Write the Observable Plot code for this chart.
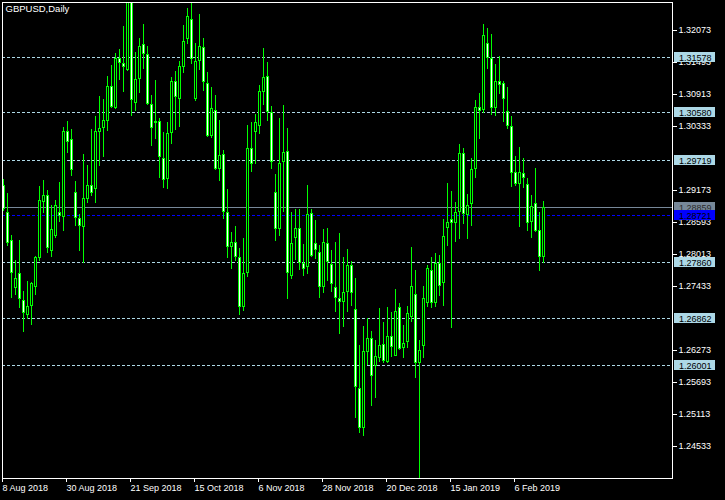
<!DOCTYPE html>
<html>
<head>
<meta charset="utf-8">
<script src="https://cdn.jsdelivr.net/npm/d3@7"></script>
<script src="https://cdn.jsdelivr.net/npm/@observablehq/plot@0.6"></script>
<style>
  html, body { margin: 0; padding: 0; background: #000; }
</style>
</head>
<body>
<div id="chart"></div>
<script>
// ---- data (GBPUSD daily bars) ----
const symbolTitle = "GBPUSD,Daily";

const dates = [
  "2018-08-08","2018-08-09","2018-08-10","2018-08-13","2018-08-14","2018-08-15","2018-08-16","2018-08-17",
  "2018-08-20","2018-08-21","2018-08-22","2018-08-23","2018-08-24","2018-08-27","2018-08-28","2018-08-29",
  "2018-08-30","2018-08-31",
  "2018-09-03","2018-09-04","2018-09-05","2018-09-06","2018-09-07","2018-09-10","2018-09-11","2018-09-12",
  "2018-09-13","2018-09-14","2018-09-17","2018-09-18","2018-09-19","2018-09-20","2018-09-21","2018-09-24",
  "2018-09-25","2018-09-26","2018-09-27","2018-09-28",
  "2018-10-01","2018-10-02","2018-10-03","2018-10-04","2018-10-05","2018-10-08","2018-10-09","2018-10-10",
  "2018-10-11","2018-10-12","2018-10-15","2018-10-16","2018-10-17","2018-10-18","2018-10-19","2018-10-22",
  "2018-10-23","2018-10-24","2018-10-25","2018-10-26","2018-10-29","2018-10-30","2018-10-31",
  "2018-11-01","2018-11-02","2018-11-05","2018-11-06","2018-11-07","2018-11-08","2018-11-09","2018-11-12",
  "2018-11-13","2018-11-14","2018-11-15","2018-11-16","2018-11-19","2018-11-20","2018-11-21","2018-11-22",
  "2018-11-23","2018-11-26","2018-11-27","2018-11-28","2018-11-29","2018-11-30",
  "2018-12-03","2018-12-04","2018-12-05","2018-12-06","2018-12-07","2018-12-10","2018-12-11","2018-12-12",
  "2018-12-13","2018-12-14","2018-12-17","2018-12-18","2018-12-19","2018-12-20","2018-12-21","2018-12-24",
  "2018-12-26","2018-12-27","2018-12-28","2018-12-31",
  "2019-01-02","2019-01-03","2019-01-04","2019-01-07","2019-01-08","2019-01-09","2019-01-10","2019-01-11",
  "2019-01-14","2019-01-15","2019-01-16","2019-01-17","2019-01-18","2019-01-21","2019-01-22","2019-01-23",
  "2019-01-24","2019-01-25","2019-01-28","2019-01-29","2019-01-30","2019-01-31",
  "2019-02-01","2019-02-04","2019-02-05","2019-02-06","2019-02-07","2019-02-08","2019-02-11","2019-02-12",
  "2019-02-13","2019-02-14","2019-02-15"
];

const open = [
  1.29264,1.28774,1.28267,1.27391,1.27663,1.27179,1.26907,1.27077,1.27409,1.27935,
  1.28950,1.29082,1.28073,1.28345,1.28774,1.28690,1.30242,1.30091,1.29137,1.28660,
  1.28508,1.29004,1.29264,1.29197,1.30230,1.30291,1.30430,1.31058,1.30653,1.31560,
  1.31469,1.31348,1.32600,1.30744,1.31179,1.31819,1.31638,1.30726,1.30381,1.30424,
  1.29747,1.29366,1.30200,1.31149,1.30816,1.31396,1.31904,1.32266,1.30829,1.31511,
  1.31759,1.31106,1.30158,1.30623,1.29548,1.29820,1.28768,1.28134,1.28225,1.27953,
  1.27046,1.27663,1.29928,1.30218,1.30339,1.30943,1.31239,1.30593,1.29131,1.28460,
  1.29675,1.29880,1.27620,1.28297,1.28478,1.27844,1.27771,1.28750,1.28206,1.28055,
  1.27409,1.28206,1.27826,1.27409,1.27210,1.27137,1.27318,1.27814,1.27010,1.25578,
  1.24853,1.26231,1.26485,1.25983,1.26122,1.26376,1.26062,1.26527,1.26170,1.27046,
  1.26303,1.26424,1.26877,1.27282,1.26031,1.26352,1.27131,1.27723,1.27119,1.27856,
  1.27481,1.28490,1.28647,1.28569,1.28768,1.29838,1.28720,1.28913,1.29548,1.30671,
  1.30623,1.31831,1.31560,1.30653,1.31149,1.31106,1.30611,1.30339,1.29493,1.29276,
  1.29487,1.29276,1.28587,1.28931,1.28448,1.27965
];
const high = [
  1.29372,1.29113,1.28357,1.27904,1.28267,1.27342,1.27524,1.27512,1.27977,1.29246,
  1.29354,1.29173,1.28901,1.28992,1.29324,1.30321,1.30424,1.30279,1.29336,1.28738,
  1.29826,1.29626,1.30279,1.30520,1.30877,1.30822,1.31239,1.31439,1.31650,1.31723,
  1.32146,1.32980,1.32750,1.31680,1.31934,1.32182,1.31783,1.30895,1.31167,1.30472,
  1.30218,1.30400,1.31215,1.31330,1.31511,1.32164,1.32478,1.32568,1.31831,1.32363,
  1.31934,1.31318,1.31046,1.30895,1.30442,1.29898,1.29191,1.28406,1.28521,1.28116,
  1.28309,1.30351,1.30412,1.30545,1.31076,1.31753,1.31499,1.30696,1.29463,1.30484,
  1.30714,1.30303,1.28780,1.28829,1.28829,1.28194,1.29264,1.28829,1.28629,1.28176,
  1.28466,1.28478,1.28086,1.28225,1.28388,1.27965,1.28098,1.27886,1.27572,1.26364,
  1.26708,1.26847,1.26617,1.26454,1.27040,1.26787,1.27058,1.26968,1.27379,1.27131,
  1.26726,1.27071,1.28146,1.27723,1.26454,1.27433,1.27814,1.27965,1.28025,1.27995,
  1.28647,1.29306,1.29155,1.28962,1.30007,1.29940,1.29101,1.29747,1.30804,1.30937,
  1.32182,1.32115,1.32001,1.31457,1.31602,1.31149,1.31034,1.30514,1.29789,1.29958,
  1.29747,1.29385,1.29082,1.29578,1.28774,1.28974
];
const low = [
  1.28798,1.28158,1.27210,1.27270,1.27028,1.26593,1.26829,1.26726,1.27270,1.27892,
  1.28750,1.28025,1.27965,1.28297,1.28599,1.28436,1.29838,1.29427,1.28527,1.28073,
  1.27844,1.28931,1.29064,1.28944,1.29614,1.29777,1.30248,1.30653,1.30641,1.31167,
  1.30955,1.31330,1.30520,1.30611,1.30937,1.31366,1.30714,1.29977,1.30097,1.29397,
  1.29215,1.29191,1.30007,1.30261,1.30321,1.31300,1.31813,1.31451,1.30792,1.31348,
  1.30973,1.30140,1.30110,1.29536,1.29336,1.28647,1.27947,1.27741,1.27886,1.26907,
  1.26980,1.27602,1.29505,1.29638,1.30188,1.30714,1.30430,1.29554,1.28255,1.28345,
  1.28780,1.27197,1.27560,1.27904,1.27723,1.27614,1.27651,1.27965,1.27922,1.27222,
  1.27300,1.27524,1.27330,1.26968,1.26557,1.26696,1.26968,1.27077,1.25035,1.24763,
  1.24720,1.26001,1.25264,1.25409,1.26050,1.26031,1.26031,1.26152,1.26170,1.26273,
  1.26134,1.26315,1.26775,1.25772,1.23900,1.26134,1.27058,1.27040,1.27058,1.27258,
  1.27077,1.28164,1.26666,1.28225,1.28285,1.28551,1.28279,1.28527,1.29397,1.30097,
  1.30563,1.31360,1.30532,1.30520,1.30913,1.30412,1.30279,1.29233,1.29252,1.28508,
  1.29203,1.28436,1.28309,1.28418,1.27711,1.27844
];
const close = [
  1.28823,1.28218,1.27675,1.27572,1.27191,1.26938,1.27071,1.27481,1.27965,1.28992,
  1.29082,1.28116,1.28460,1.28901,1.28702,1.30242,1.30049,1.29536,1.28660,1.28527,
  1.29022,1.29264,1.29125,1.30242,1.30303,1.30442,1.31058,1.30683,1.31560,1.31469,
  1.31408,1.32600,1.30804,1.31179,1.31783,1.31638,1.30726,1.30291,1.30424,1.29765,
  1.29354,1.30200,1.31149,1.30853,1.31421,1.31874,1.32327,1.31541,1.31511,1.31783,
  1.31125,1.30152,1.30653,1.29548,1.29807,1.28780,1.28146,1.28225,1.27953,1.27046,
  1.27663,1.29928,1.29644,1.30400,1.30967,1.31215,1.30593,1.29687,1.28460,1.29656,
  1.29856,1.27675,1.28206,1.28478,1.27844,1.27735,1.28732,1.27983,1.28086,1.27421,
  1.28225,1.27874,1.27463,1.27210,1.27137,1.27318,1.27814,1.27300,1.25596,1.24853,
  1.26255,1.26485,1.25808,1.26170,1.26364,1.26074,1.26527,1.26333,1.26980,1.26285,
  1.26394,1.26938,1.27433,1.26031,1.26273,1.27210,1.27753,1.27119,1.27856,1.27439,
  1.28339,1.28587,1.28569,1.28768,1.29838,1.28732,1.28901,1.29548,1.30671,1.30611,
  1.31982,1.31560,1.30653,1.31149,1.31076,1.30816,1.30339,1.29475,1.29276,1.29505,
  1.29385,1.28569,1.28889,1.28436,1.27965,1.28859
];

const tickDates  = ["2018-08-08","2018-08-30","2018-09-21","2018-10-15","2018-11-06","2018-11-28","2018-12-20","2019-01-15","2019-02-06"];
const tickLabels = ["8 Aug 2018","30 Aug 2018","21 Sep 2018","15 Oct 2018","6 Nov 2018","28 Nov 2018","20 Dec 2018","15 Jan 2019","6 Feb 2019"];

// price-axis ticks visible in the reference (some partly hidden behind the level tags)
const priceTicks = [1.32073,1.31493,1.30913,1.30333,1.29173,1.28593,1.28013,1.27433,1.26273,1.25693,1.25113,1.24533];

const levels = [1.31578, 1.30580, 1.29719, 1.27860, 1.26862, 1.26001];
const bidPrice = 1.28859;
const linePrice = 1.28721;

// ---- build table for the library ----
const candles = dates.map((date, i) => ({i, date, open: open[i], high: high[i], low: low[i], close: close[i]}));
const tickIdx = tickDates.map(d => dates.indexOf(d));
const labelOf = new Map(tickIdx.map((k, j) => [k, tickLabels[j]]));

const FONT = "'Liberation Sans', Arial, sans-serif";
const LIME = "#00ff00";

function labelBoxes(index, scales, values, dims) {
  const y = scales.y;
  const g = d3.create("svg:g")
    .attr("font-size", 9).attr("font-family", FONT).attr("text-anchor", "start");
  const x0 = dims.width - dims.marginRight + 2;
  const items = [
    ...levels.map(v => ({v, bg: "#add8e6", fg: "#000"})),
    {v: bidPrice, bg: "#778899", fg: "#2a2a2a"},
    {v: linePrice, bg: "#0000ff", fg: "#000"}
  ];
  for (const it of items) {
    const cy = Math.round(y(it.v));
    g.append("rect").attr("x", x0).attr("y", cy - 5).attr("width", 41).attr("height", 10).attr("fill", it.bg);
    g.append("text").attr("x", x0 + 5).attr("y", cy + 4).attr("fill", it.fg).text(it.v.toFixed(5));
  }
  return g.node();
}

const isBull = d => d.close >= d.open;

const chart = Plot.plot({
  width: 725,
  height: 500,
  marginLeft: 2,
  marginRight: 53,
  marginTop: 2,
  marginBottom: 22,
  style: {background: "#000", color: "#fff", fontFamily: FONT, fontSize: "9px", overflow: "visible"},
  x: {type: "linear", domain: [-0.25, 167.25], axis: null},
  y: {type: "linear", domain: [1.23953, 1.325805], axis: null},
  marks: [
    Plot.ruleY(levels, {y: d => d, stroke: "#add8e6", strokeDasharray: "3,2", shapeRendering: "crispEdges"}),
    Plot.ruleY([bidPrice], {y: d => d, stroke: "#778899", shapeRendering: "crispEdges"}),
    Plot.ruleY([linePrice], {y: d => d, stroke: "#0000ff", strokeDasharray: "3,2", shapeRendering: "crispEdges"}),
    // wicks
    Plot.rect(candles, {
      x1: d => d.i - 0.125, x2: d => d.i + 0.125, y1: "low", y2: "high",
      fill: LIME, clip: true, shapeRendering: "crispEdges"
    }),
    // body outlines
    Plot.rect(candles, {
      x1: d => d.i - 0.375, x2: d => d.i + 0.375, y1: "open", y2: "close",
      fill: LIME, clip: true, shapeRendering: "crispEdges"
    }),
    // body interiors: bull = black, bear = white
    Plot.rect(candles, {
      filter: isBull,
      x1: d => d.i - 0.125, x2: d => d.i + 0.125, y1: "open", y2: "close",
      insetTop: 1, insetBottom: 1, fill: "#000000", clip: true, shapeRendering: "crispEdges"
    }),
    Plot.rect(candles, {
      filter: d => !isBull(d),
      x1: d => d.i - 0.125, x2: d => d.i + 0.125, y1: "open", y2: "close",
      insetTop: 1, insetBottom: 1, fill: "#ffffff", clip: true, shapeRendering: "crispEdges"
    }),
    Plot.frame({stroke: "#ffffff", shapeRendering: "crispEdges"}),
    Plot.axisX(tickIdx, {
      anchor: "bottom", label: null, tickSize: 4, tickPadding: 2, dx: -1,
      tickFormat: d => labelOf.get(d), textAnchor: "start",
      color: "#ffffff", fontSize: 9
    }),
    Plot.axisY(priceTicks, {
      anchor: "right", label: null, tickSize: 4, tickPadding: 2,
      tickFormat: d => d.toFixed(5), color: "#ffffff", fontSize: 9
    }),
    Plot.text([symbolTitle], {
      frameAnchor: "top-left", dx: 3, dy: 3, lineAnchor: "top", textAnchor: "start",
      fill: "#ffffff", fontSize: 9.5
    }),
    labelBoxes
  ]
});
document.getElementById("chart").appendChild(chart);
</script>
</body>
</html>
